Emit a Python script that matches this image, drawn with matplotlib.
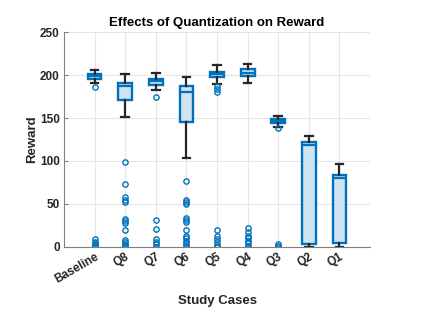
import matplotlib.pyplot as plt

plt.rcParams['font.family'] = ['Liberation Sans', 'DejaVu Sans']

cases = ['Baseline', 'Q8', 'Q7', 'Q6', 'Q5', 'Q4', 'Q3', 'Q2', 'Q1']
q1 = [196, 171, 189, 145, 198, 199, 144, 3, 4]
med = [199, 187, 193, 181, 201, 203, 147, 119, 80]
q3 = [202, 191, 196, 188, 203.5, 207, 149, 122, 84]
whislo = [191, 151, 183, 103, 190, 191, 140, 0, 0]
whishi = [206, 201, 203, 198, 212, 213, 153, 129, 96]
fliers = [
    [186, 9, 6, 4, 2, 1, 0],
    [99, 73, 58, 55, 52, 32, 30, 28, 19, 8, 6, 3, 1, 0],
    [175, 31, 21, 9, 6, 3, 0],
    [77, 55, 52, 50, 34, 31, 29, 19, 13, 10, 7, 4, 2, 0],
    [187, 184, 181, 19, 13, 9, 5, 2, 0],
    [22, 17, 13, 10, 7, 4, 1, 0],
    [139, 3, 1, 0],
    [],
    [],
]

blue = '#0072BD'
dark = '#262626'

stats = []
for i, name in enumerate(cases):
    stats.append(dict(label=name, q1=q1[i], med=med[i], q3=q3[i],
                      whislo=whislo[i], whishi=whishi[i], fliers=fliers[i]))

fig = plt.figure(figsize=(4.21, 3.15), dpi=100)
ax = fig.add_axes([0.152, 0.217, 0.727, 0.68])

ax.bxp(stats, positions=range(1, len(cases) + 1), widths=0.45, patch_artist=True,
       boxprops=dict(facecolor='#cfe3f1', edgecolor=blue, linewidth=1.7),
       medianprops=dict(color=blue, linewidth=1.6),
       whiskerprops=dict(color=dark, linewidth=1.6),
       capprops=dict(color=dark, linewidth=1.6),
       capwidths=0.25,
       flierprops=dict(marker='o', markerfacecolor='none', markeredgecolor=blue,
                       markersize=3.8, markeredgewidth=1.0))

ax.set_xlim(0, 10)
ax.set_ylim(0, 250)
ax.set_yticks([0, 50, 100, 150, 200, 250])
ax.set_xticks(range(1, 10))
ax.set_xticklabels(cases, rotation=30, ha='right', rotation_mode='anchor')
for lab in ax.get_xticklabels() + ax.get_yticklabels():
    lab.set_fontweight('bold')
    lab.set_fontsize(8.5)
    lab.set_color(dark)

ax.grid(True, color='#e6e6e6', linewidth=0.8)
ax.set_axisbelow(True)
ax.spines['top'].set_visible(False)
ax.spines['right'].set_visible(False)
for s in ['left', 'bottom']:
    ax.spines[s].set_color('#808080')
    ax.spines[s].set_linewidth(0.8)
ax.tick_params(direction='in', length=3, color='#808080', pad=3)
ax.tick_params(axis='x', length=0)

ax.set_title('Effects of Quantization on Reward', fontsize=9.5, fontweight='bold', pad=5)
ax.set_xlabel('Study Cases', fontsize=9.5, fontweight='bold', color=dark, labelpad=7)
ax.set_ylabel('Reward', fontsize=9.5, fontweight='bold', color=dark, labelpad=1)

fig.savefig('out.png', dpi=100)
